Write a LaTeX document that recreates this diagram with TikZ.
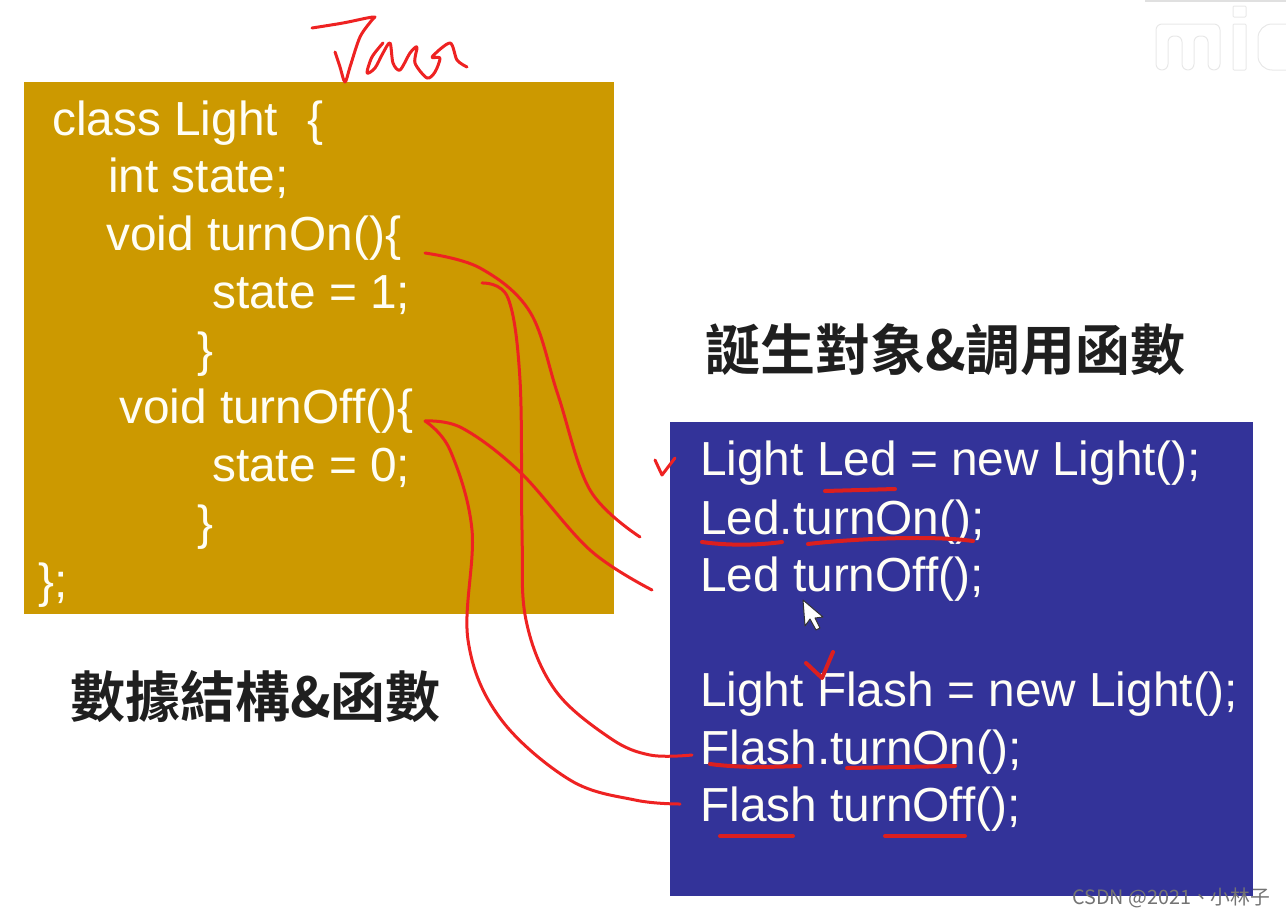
\documentclass[tikz,border=0pt]{standalone}
\usepackage{fontspec}
\setmainfont{Liberation Sans}
\newfontfamily\cjkfont{Noto Sans CJK TC}[BoldFont=* Bold]
\definecolor{goldbox}{HTML}{CC9900}
\definecolor{bluebox}{HTML}{333399}
\definecolor{ink}{HTML}{EE2222}
\tikzset{
  panel/.style={draw=none,inner sep=0pt,outer sep=0pt,anchor=north west},
  code/.style={anchor=base west,inner sep=0pt,font=\fontsize{47.8}{48}\selectfont,text=white!96!yellow},
  caption/.style={anchor=base west,inner sep=0pt,font=\fontsize{55}{56}\selectfont\cjkfont\bfseries,text=black!88},
  pen/.style={draw=ink,line width=3pt,line cap=round,line join=round},
  mark pen/.style={draw=ink!92!black,line width=4pt,line cap=round,line join=round},
  logo/.style={draw=black!9,line width=1pt,line join=round,rounded corners=6pt}
}
\begin{document}
\begin{tikzpicture}[x=1pt,y=-1pt]
\useasboundingbox (0,0) rectangle (1286,916);
\node[panel,fill=goldbox,minimum width=590pt,minimum height=532pt] (gold) at (24,82) {};
\node[panel,fill=bluebox,minimum width=583pt,minimum height=474pt] (blue) at (670,422) {};
% logo
\draw[black!12,line width=1.5pt] (1145,1) -- (1286,1);
\draw[logo] (1156,70) -- (1156,24) -- (1220,24) -- (1220,70) -- (1208,70) -- (1208,36) -- (1194,36) -- (1194,70) -- (1182,70) -- (1182,36) -- (1168,36) -- (1168,70) -- cycle;
\draw[logo,rounded corners=1pt] (1233,24) rectangle (1246,70);
\draw[logo,rounded corners=1pt] (1233,6) rectangle (1246,17);
\draw[logo,rounded corners=14pt] (1286,24) -- (1258,24) -- (1258,70) -- (1286,70);
% left code
\node[code] (l1) at (52,135) {class Light};
\node[code] (l1b) at (307,135) {\{};
\node[code] (l2) at (108,192) {int state;};
\node[code] (l3) at (106,250) {void turnOn()\{};
\node[code] (l4) at (212,308) {state = 1;};
\node[code] (l5) at (197,366) {\}};
\node[code] (l6) at (119,423) {void turnOff()\{};
\node[code] (l7) at (212,481) {state = 0;};
\node[code] (l8) at (197,539) {\}};
\node[code] (l9) at (38,597) {\};};
% right code
\node[code] (r1) at (700,475) {Light Led = new Light();};
\node[code] (r2) at (700,534) {Led.turnOn();};
\node[code] (r3) at (700,591) {Led turnOff();};
\node[code] (r4) at (700,706) {Light Flash = new Light();};
\node[code] (r5) at (700,764) {Flash.turnOn();};
\node[code] (r6) at (700,821) {Flash turnOff();};
% captions
\node[caption] (c1) at (70,717) {數據結構\&函數};
\node[caption] (c2) at (705,370) {誕生對象\&調用函數};
% watermark
\node[anchor=base west,inner sep=0pt,font=\fontsize{19.8}{20}\selectfont\cjkfont,text=black!55] (wm) at (1072,904) {CSDN @2021、小林子};
% cursor
\draw[fill=white,draw=black!80,line width=1pt,line join=round] (803,600) -- (805,626) -- (810,619) -- (816,630) -- (820,628) -- (815,618) -- (823,617) -- cycle;
% connector ends
\coordinate (onA) at (425,253);
\coordinate (onB) at (482,283);
\coordinate (offA) at (425,421);
\coordinate (ledOn) at (640,537);
\coordinate (ledOff) at (652,590);
\coordinate (flOn) at (692,755);
\coordinate (flOff) at (680,804);
% connectors
\draw[pen] plot[smooth,tension=0.6] coordinates {(onA) (480,268) (530,312) (558,395) (590,490) (ledOn)};
\draw[pen] plot[smooth,tension=0.6] coordinates {(onB) (508,298) (520,380) (522,530) (526,620) (555,690) (610,738) (650,755) (flOn)};
\draw[pen] plot[smooth,tension=0.6] coordinates {(offA) (462,428) (520,472) (590,550) (ledOff)};
\draw[pen] plot[smooth,tension=0.6] coordinates {(offA) (450,450) (472,530) (468,640) (500,718) (570,780) (635,800) (flOff)};
% underlines
\draw[mark pen] (825,491) -- (895,489);
\draw[mark pen] (702,542) .. controls (730,546) and (760,545) .. (782,542);
\draw[mark pen] (808,544) .. controls (850,539) and (930,535) .. (973,541);
\draw[mark pen] (710,764) .. controls (740,768) and (770,767) .. (800,766);
\draw[mark pen] (847,768) -- (955,766);
\draw[mark pen] (720,836) -- (793,836);
\draw[mark pen] (885,836) -- (965,836);
% ticks
\draw[pen] (655,460) -- (662,475) -- (675,458);
\draw[mark pen] (806,663) -- (822,678) -- (833,652);
% Java scrawl
\draw[pen] plot[smooth,tension=0.5] coordinates {(312,28) (343,23) (367,18) (375,17) (372,20) (360,37) (350,67) (345,82) (340,67) (335,52)};
\draw[pen] plot[smooth,tension=0.5] coordinates {(383,43) (372,57) (367,73) (375,68) (383,53) (390,43) (393,63) (400,70) (410,53) (417,47) (415,63) (427,78) (435,72) (440,58) (432,57) (450,43) (457,60) (467,67)};
\end{tikzpicture}
\end{document}
